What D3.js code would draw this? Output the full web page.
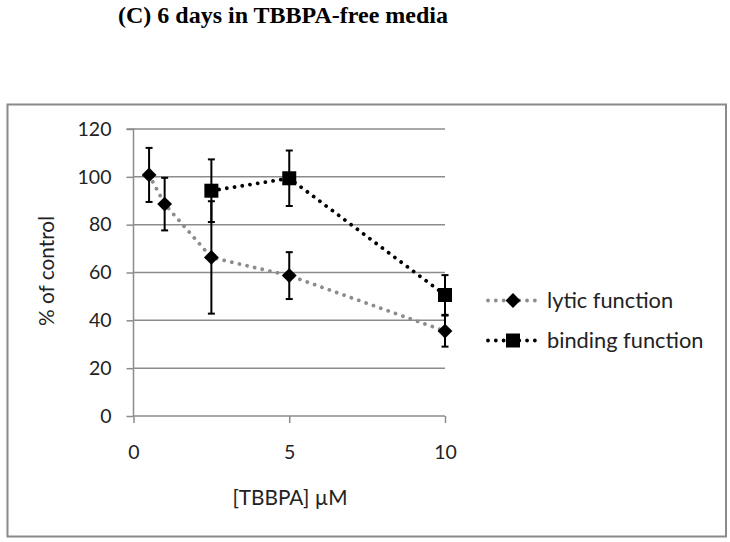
<!DOCTYPE html>
<html>
<head>
<meta charset="utf-8">
<script src="https://cdn.jsdelivr.net/npm/d3@7"></script>
<style>
  body { margin: 0; background: #fff; }
  svg { display: block; }
  .tick text { font-family: Lato, "Open Sans", sans-serif; font-size: 19.5px; fill: #222; }
</style>
</head>
<body>
<svg id="chart" width="730" height="542"></svg>
<script>
// concentrations (uM)
const lyticDose = [0.5, 1, 2.5, 5, 10];
const lyticMean = [100.8, 88.6, 66.3, 58.7, 35.5];
const lyticErr  = [11.3, 11.0, 23.5, 9.8, 6.5];

const bindDose = [2.5, 5, 10];
const bindMean = [94.2, 99.4, 50.6];
const bindErr  = [13.1, 11.6, 8.3];

const xTicks = [0, 5, 10];
const yTicks = [0, 20, 40, 60, 80, 100, 120];

const seriesNames = ['lytic function', 'binding function'];

const svg = d3.select('#chart');
const font = 'Lato, "Open Sans", sans-serif';

const x = d3.scaleLinear().domain([0, 10]).range([133.5, 445]);
const y = d3.scaleLinear().domain([0, 120]).range([416, 129]);

// title
svg.append('text')
    .attr('x', 118).attr('y', 22.5)
    .attr('textLength', 330).attr('lengthAdjust', 'spacingAndGlyphs')
    .style('font-family', '"Liberation Serif", "Times New Roman", serif')
    .style('font-weight', 'bold').style('font-size', '23px').style('fill', '#000')
    .text('(C) 6 days in TBBPA-free media');

// outer frame
svg.append('rect')
    .attr('x', 7.5).attr('y', 104.5).attr('width', 718.5).attr('height', 432)
    .attr('fill', 'none').attr('stroke', '#8a8a8a').attr('stroke-width', 2);

// gridlines
svg.append('g').selectAll('line')
    .data(yTicks.filter(d => d > 0))
    .join('line')
    .attr('x1', x(0)).attr('x2', x(10))
    .attr('y1', d => y(d)).attr('y2', d => y(d))
    .attr('stroke', '#8c8c8c').attr('stroke-width', 1.5);

// axes
const yAxis = svg.append('g')
    .attr('transform', `translate(${x(0)},0)`)
    .call(d3.axisLeft(y).tickValues(yTicks).tickSize(7).tickPadding(15));
const xAxis = svg.append('g')
    .attr('transform', `translate(0,${y(0)})`)
    .call(d3.axisBottom(x).tickValues(xTicks).tickSize(7).tickPadding(22));
[yAxis, xAxis].forEach(g => {
    g.select('.domain').attr('stroke', '#8c8c8c').attr('stroke-width', 1.5);
    g.selectAll('.tick line').attr('stroke', '#8c8c8c').attr('stroke-width', 1.5);
});
yAxis.select('.domain').attr('d', `M-7,${y(120)}H0V${y(0)}`);
xAxis.select('.domain').attr('d', `M${x(0)},0H${x(10)}`);

// axis titles
svg.append('text')
    .attr('transform', 'translate(53.5,271) rotate(-90)')
    .attr('text-anchor', 'middle')
    .style('font-family', font).style('font-size', '20.8px').style('fill', '#222')
    .text('% of control');
svg.append('text')
    .attr('x', 290).attr('y', 505)
    .attr('text-anchor', 'middle')
    .style('font-family', font).style('font-size', '20.8px').style('fill', '#222')
    .text('[TBBPA] \u00b5M');

const line = d3.line().x(d => x(d[0])).y(d => y(d[1]));
const lytic = lyticDose.map((d, i) => [d, lyticMean[i], lyticErr[i]]);
const bind = bindDose.map((d, i) => [d, bindMean[i], bindErr[i]]);

const diamond = d3.symbol().type(d3.symbolDiamond2).size(140);
const square = d3.symbol().type(d3.symbolSquare).size(196);

function dotted(sel, color) {
    sel.attr('fill', 'none').attr('stroke', color).attr('stroke-width', 3.8)
       .attr('stroke-linecap', 'round').attr('stroke-dasharray', '0.01 7.8');
}

svg.append('path').datum(lytic).attr('d', line).call(dotted, '#8c8c8c');
svg.append('path').datum(bind).attr('d', line).call(dotted, '#000');

function errorBars(data) {
    const g = svg.append('g').attr('stroke', '#000').attr('stroke-width', 2);
    data.forEach(d => {
        const cx = x(d[0]), top = y(d[1] + d[2]), bot = y(d[1] - d[2]);
        g.append('line').attr('x1', cx).attr('x2', cx).attr('y1', top).attr('y2', bot);
        g.append('line').attr('x1', cx - 3.5).attr('x2', cx + 3.5).attr('y1', top).attr('y2', top);
        g.append('line').attr('x1', cx - 3.5).attr('x2', cx + 3.5).attr('y1', bot).attr('y2', bot);
    });
}
errorBars(lytic);
errorBars(bind);

svg.append('g').selectAll('path').data(lytic).join('path')
    .attr('d', diamond)
    .attr('transform', d => `translate(${x(d[0])},${y(d[1])})`)
    .attr('fill', '#000');
svg.append('g').selectAll('path').data(bind).join('path')
    .attr('d', square)
    .attr('transform', d => `translate(${x(d[0])},${y(d[1])})`)
    .attr('fill', '#000');

// legend
const legend = svg.append('g');
const rows = [
    {name: seriesNames[0], color: '#8c8c8c', sym: diamond, y: 300.5},
    {name: seriesNames[1], color: '#000', sym: square, y: 340.5}
];
rows.forEach(r => {
    legend.append('path').attr('d', `M488,${r.y}H536`).call(dotted, r.color);
    legend.append('path').attr('d', r.sym)
        .attr('transform', `translate(513,${r.y})`).attr('fill', '#000');
    legend.append('text')
        .attr('x', 547).attr('y', r.y + 7.5)
        .style('font-family', font).style('font-size', '21.8px').style('fill', '#222')
        .text(r.name);
});
</script>
</body>
</html>
